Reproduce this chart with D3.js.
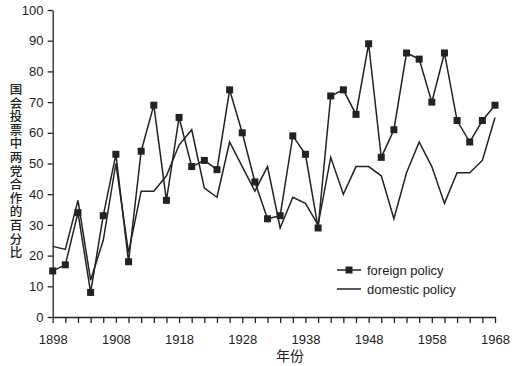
<!DOCTYPE html>
<html><head><meta charset="utf-8">
<script src="https://cdn.jsdelivr.net/npm/d3@7"></script>
<style>body{margin:0;background:#fff}svg{display:block}text{font-family:"Liberation Sans",Arial,sans-serif;fill:#222}</style>
</head><body>
<script>
const years = d3.range(1898, 1969, 2);
const foreign = [15,17,34,8,33,53,18,54,69,38,65,49,51,48,74,60,44,32,33,59,53,29,72,74,66,89,52,61,86,84,70,86,64,57,64,69];
const domestic = [23,22,38,12,25,50,21,41,41,46,56,61,42,39,57,49,41,49,29,39,37,30,52,40,49,49,46,32,47,57,49,37,47,47,51,65];
const xLabels = [1898,1908,1918,1928,1938,1948,1958,1968];
const yTicks = d3.range(0,101,10);
const seriesNames = ["foreign policy","domestic policy"];
const yTitle = "国会投票中两党合作的百分比";
const xTitle = "年份";

const W=516,H=366;
const svg=d3.select("body").append("svg").attr("width",W).attr("height",H);
const x=d3.scaleLinear().domain([1898,1968]).range([52.7,495]);
const y=d3.scaleLinear().domain([0,100]).range([317,10]);
const col="#222";

const xa=svg.append("g").attr("transform","translate(0,317)")
  .call(d3.axisBottom(x).tickValues(years).tickSize(6).tickSizeOuter(0).tickFormat(d=>xLabels.includes(d)?d:""));
const ya=svg.append("g").attr("transform","translate(52.7,0)")
  .call(d3.axisLeft(y).tickValues(yTicks).tickSize(5).tickSizeOuter(0));
[xa,ya].forEach(a=>{a.selectAll("path,line").attr("stroke",col).attr("stroke-width",1.3);
  a.selectAll("text").style("font-size","13px").attr("fill",col);});
xa.selectAll("text").attr("dy","1.35em");
ya.selectAll("text").attr("dx","-0.1em");

const line=d3.line().x((d,i)=>x(years[i])).y(d=>y(d));
svg.append("path").datum(domestic).attr("d",line).attr("fill","none").attr("stroke",col).attr("stroke-width",1.5);
svg.append("path").datum(foreign).attr("d",line).attr("fill","none").attr("stroke",col).attr("stroke-width",1.5);
const s=7;
svg.selectAll("rect.m").data(foreign).join("rect").attr("class","m")
  .attr("x",(d,i)=>x(years[i])-s/2).attr("y",d=>y(d)-s/2).attr("width",s).attr("height",s).attr("fill",col);

// legend
const lg=svg.append("g");
lg.append("line").attr("x1",337).attr("x2",361).attr("y1",270).attr("y2",270).attr("stroke",col).attr("stroke-width",1.5);
lg.append("rect").attr("x",349-3.5).attr("y",270-3.5).attr("width",7).attr("height",7).attr("fill",col);
lg.append("line").attr("x1",337).attr("x2",361).attr("y1",289).attr("y2",289).attr("stroke",col).attr("stroke-width",1.5);
lg.append("text").attr("x",367).attr("y",274.5).style("font-size","13px").text(seriesNames[0]);
lg.append("text").attr("x",367).attr("y",293.5).style("font-size","13px").text(seriesNames[1]);

// titles
svg.append("text").attr("x",16).attr("y",83)
  .style("writing-mode","vertical-rl").style("text-orientation","upright")
  .style("font-family","'Noto Sans CJK SC'").style("font-size","12.5px").style("font-weight","500")
  .style("letter-spacing","1.1px").text(yTitle);
svg.append("text").attr("x",290).attr("y",361).attr("text-anchor","middle").style("font-family","'Noto Sans CJK SC'").style("font-size","14px").text(xTitle);
</script>
</body></html>
